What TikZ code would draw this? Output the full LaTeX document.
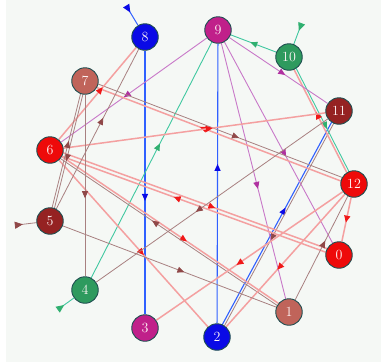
\documentclass[tikz,border=0pt]{standalone}
\usetikzlibrary{arrows.meta,decorations.markings,calc}
\pgfdeclarelayer{back}
\pgfdeclarelayer{bg}
\pgfsetlayers{back,bg,main}
\definecolor{bgc}{HTML}{F5F8F5}
\definecolor{nblue}{HTML}{0A0AE6}
\definecolor{nmag}{HTML}{C0208A}
\definecolor{ngreen}{HTML}{2E9A5E}
\definecolor{ndark}{HTML}{952222}
\definecolor{nred}{HTML}{EE0A0A}
\definecolor{nbrown}{HTML}{C0645A}
\definecolor{ring}{HTML}{1E4E50}
\definecolor{lblue}{HTML}{3060FF}
\definecolor{lmag}{HTML}{C878C8}
\definecolor{lgreen}{HTML}{40C8A0}
\definecolor{lred}{HTML}{F4A0A0}
\definecolor{ldark}{HTML}{A88080}
\definecolor{ared}{HTML}{F01818}
\definecolor{adark}{HTML}{904848}
\definecolor{amag}{HTML}{B030A0}
\definecolor{agreen}{HTML}{30B070}
\tikzset{
  st/.style={circle,draw=ring,line width=0.9pt,fill=#1,minimum size=26.5pt,inner sep=0pt,
    text=white!85!pink,font=\fontsize{14}{14}\selectfont},
  mk/.style={postaction={decorate},decoration={markings,
    mark=at position 0.57 with {\arrow{Triangle[length=7pt,width=6pt,color=#1]}}}},
  stubmk/.style={postaction={decorate},decoration={markings,
    mark=at position 0.3 with {\arrow{Triangle[length=8pt,width=7pt,color=#1]}}}},
  eblue/.style={draw=lblue,line width=1.1pt,mk=nblue},
  egreen/.style={draw=lgreen,line width=0.9pt,mk=agreen},
  emag/.style={draw=lmag,line width=0.9pt,mk=amag},
  ered/.style={draw=lred,line width=1.5pt,mk=ared},
  edark/.style={draw=ldark,line width=0.8pt,mk=adark},
  side/.style={to path={($(\tikztostart)!#1!90:(\tikztotarget)$) -- ($(\tikztotarget)!#1!-90:(\tikztostart)$)}},
}
\begin{document}
\begin{tikzpicture}[x=1pt,y=-1pt]
\useasboundingbox (0,0) rectangle (381,362);
\begin{pgfonlayer}{back}
\fill[white] (0,0) rectangle (381,362);
\fill[bgc] (6,0) rectangle (381,362);
\end{pgfonlayer}
% nodes
\node[st=nblue]  (n8)  at (145,37)  {8};
\node[st=nmag]   (n9)  at (218,30)  {9};
\node[st=ngreen] (n10) at (289,57)  {10};
\node[st=ndark]  (n11) at (339,111) {11};
\node[st=nred]   (n12) at (354,184) {12};
\node[st=nred]   (n0)  at (339,255) {0};
\node[st=nbrown] (n1)  at (289,312) {1};
\node[st=nblue]  (n2)  at (217,337) {2};
\node[st=nmag]   (n3)  at (145,328) {3};
\node[st=ngreen] (n4)  at (85,290)  {4};
\node[st=ndark]  (n5)  at (50,221)  {5};
\node[st=nred]   (n6)  at (50,150)  {6};
\node[st=nbrown] (n7)  at (85,81)   {7};
\coordinate (s8) at (127,7);
\coordinate (s10) at (301,25);
\coordinate (s4) at (60,308);
\coordinate (s5) at (17,225);
\begin{pgfonlayer}{bg}
% stubs
\draw[draw=lblue,line width=1pt,stubmk=nblue] (s8) -- (n8);
\draw[draw=lgreen,line width=0.9pt,stubmk=agreen] (s10) -- (n10);
\draw[draw=lgreen,line width=0.9pt,stubmk=agreen] (s4) -- (n4);
\draw[draw=ldark,line width=0.8pt,stubmk=adark] (s5) -- (n5);
% blue
\draw[eblue] (n8) -- (n3);
\draw[eblue] (n2) -- (n9);
\draw[eblue] (n2) to[side=1.2pt] (n11);
\draw[edark] (n11) to[side=1.2pt] (n2);
% green
\draw[egreen] (n4) -- (n9);
\draw[egreen] (n10) -- (n9);
\draw[egreen] (n10) to[side=1.2pt] (n12);
\draw[ered] (n12) to[side=1.2pt] (n10);
% magenta
\draw[emag] (n9) -- (n6);
\draw[emag] (n9) -- (n11);
\draw[emag] (n9) -- (n1);
\draw[emag] (n9) -- (n0);
% red bands
\draw[ered] (n6) to[side=1.9pt] (n0);
\draw[ered] (n0) to[side=1.9pt] (n6);
\draw[ered] (n12) to[side=1.9pt] (n7);
\draw[edark] (n7) to[side=1.9pt] (n12);
% red
\draw[ered] (n6) -- (n11);
\draw[ered] (n6) -- (n8);
\draw[ered] (n6) to[side=1.2pt] (n1);
\draw[edark] (n1) to[side=1.2pt] (n6);
\draw[ered] (n6) -- (n2);
\draw[ered] (n12) -- (n0);
\draw[ered] (n12) -- (n3);
\draw[ered] (n12) -- (n2);
% dark
\draw[edark] (n11) -- (n4);
\draw[edark] (n1) -- (n12);
\draw[edark] (n5) -- (n1);
\draw[edark] (n5) -- (n8);
\draw[edark] (n7) -- (n4);
\draw[edark] (n7) to[side=1.2pt] (n5);
\draw[edark] (n5) to[side=1.2pt] (n7);
\end{pgfonlayer}
\end{tikzpicture}
\end{document}
